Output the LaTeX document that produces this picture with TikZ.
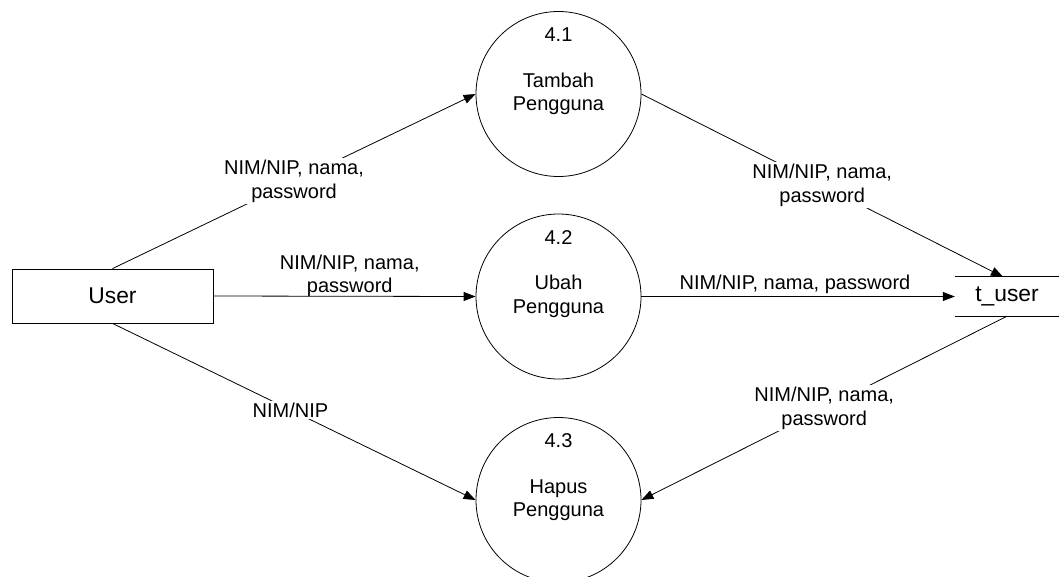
\documentclass[tikz,border=0pt]{standalone}
\usepackage{fontspec}
\setmainfont{Liberation Sans}
\usetikzlibrary{arrows.meta,calc}
\begin{document}
\begin{tikzpicture}[x=1pt,y=-1pt,
  lbl/.style={font=\fontsize{20}{23.5}\selectfont, align=center, inner sep=1pt},
  onl/.style={lbl, fill=white, inner sep=2pt},
  proc/.style={circle, draw, line width=0.8pt, minimum size=165pt, inner sep=0pt},
  flow/.style={line width=0.8pt, -{Triangle[length=12pt,width=9pt]}},
  bigtext/.style={font=\fontsize{22.8}{27}\selectfont}]
\useasboundingbox (0,0) rectangle (1059,576);
% external entity
\node[draw, line width=0.8pt, minimum width=201pt, minimum height=54pt, bigtext] (user) at (112.5,296) {User};
% processes
\node[proc] (p1) at (558.5,94) {};
\node[lbl] (n1) at ($(p1)+(0,-59)$) {4.1};
\node[lbl] (t1) at (p1) {Tambah\\Pengguna};
\node[proc] (p2) at (558.5,296.5) {};
\node[lbl] (n2) at ($(p2)+(0,-59)$) {4.2};
\node[lbl] (t2) at (p2) {Ubah\\Pengguna};
\node[proc] (p3) at (558.5,500) {};
\node[lbl] (n3) at ($(p3)+(0,-59)$) {4.3};
\node[lbl] (t3) at (p3) {Hapus\\Pengguna};
% data store
\node[minimum width=104pt, minimum height=39pt, inner sep=0pt, bigtext] (store) at (1007,296.5) {t\_user};
\draw[line width=0.8pt] (store.north west) -- (store.north east);
\draw[line width=0.8pt] (store.south west) -- (store.south east);
\coordinate (sin) at ($(store.north)+(-4,0)$);
% flows
\draw[flow] (user.north) -- node[onl]{NIM/NIP, nama,\\password} (p1.west);
\draw[flow] (user.east) -- node[lbl, pos=0.52, above, inner sep=0pt, yshift=-1pt]{NIM/NIP, nama,\\password} (p2.west);
\draw[flow] (user.south) -- node[onl, pos=0.49]{NIM/NIP} (p3.west);
\draw[flow] (p1.east) -- node[onl]{NIM/NIP, nama,\\password} (sin);
\draw[flow] (p2.east) -- node[lbl, pos=0.49, above, inner sep=2pt]{NIM/NIP, nama, password} (store.west);
\draw[flow] (store.south) -- node[onl]{NIM/NIP, nama,\\password} (p3.east);
\end{tikzpicture}
\end{document}
